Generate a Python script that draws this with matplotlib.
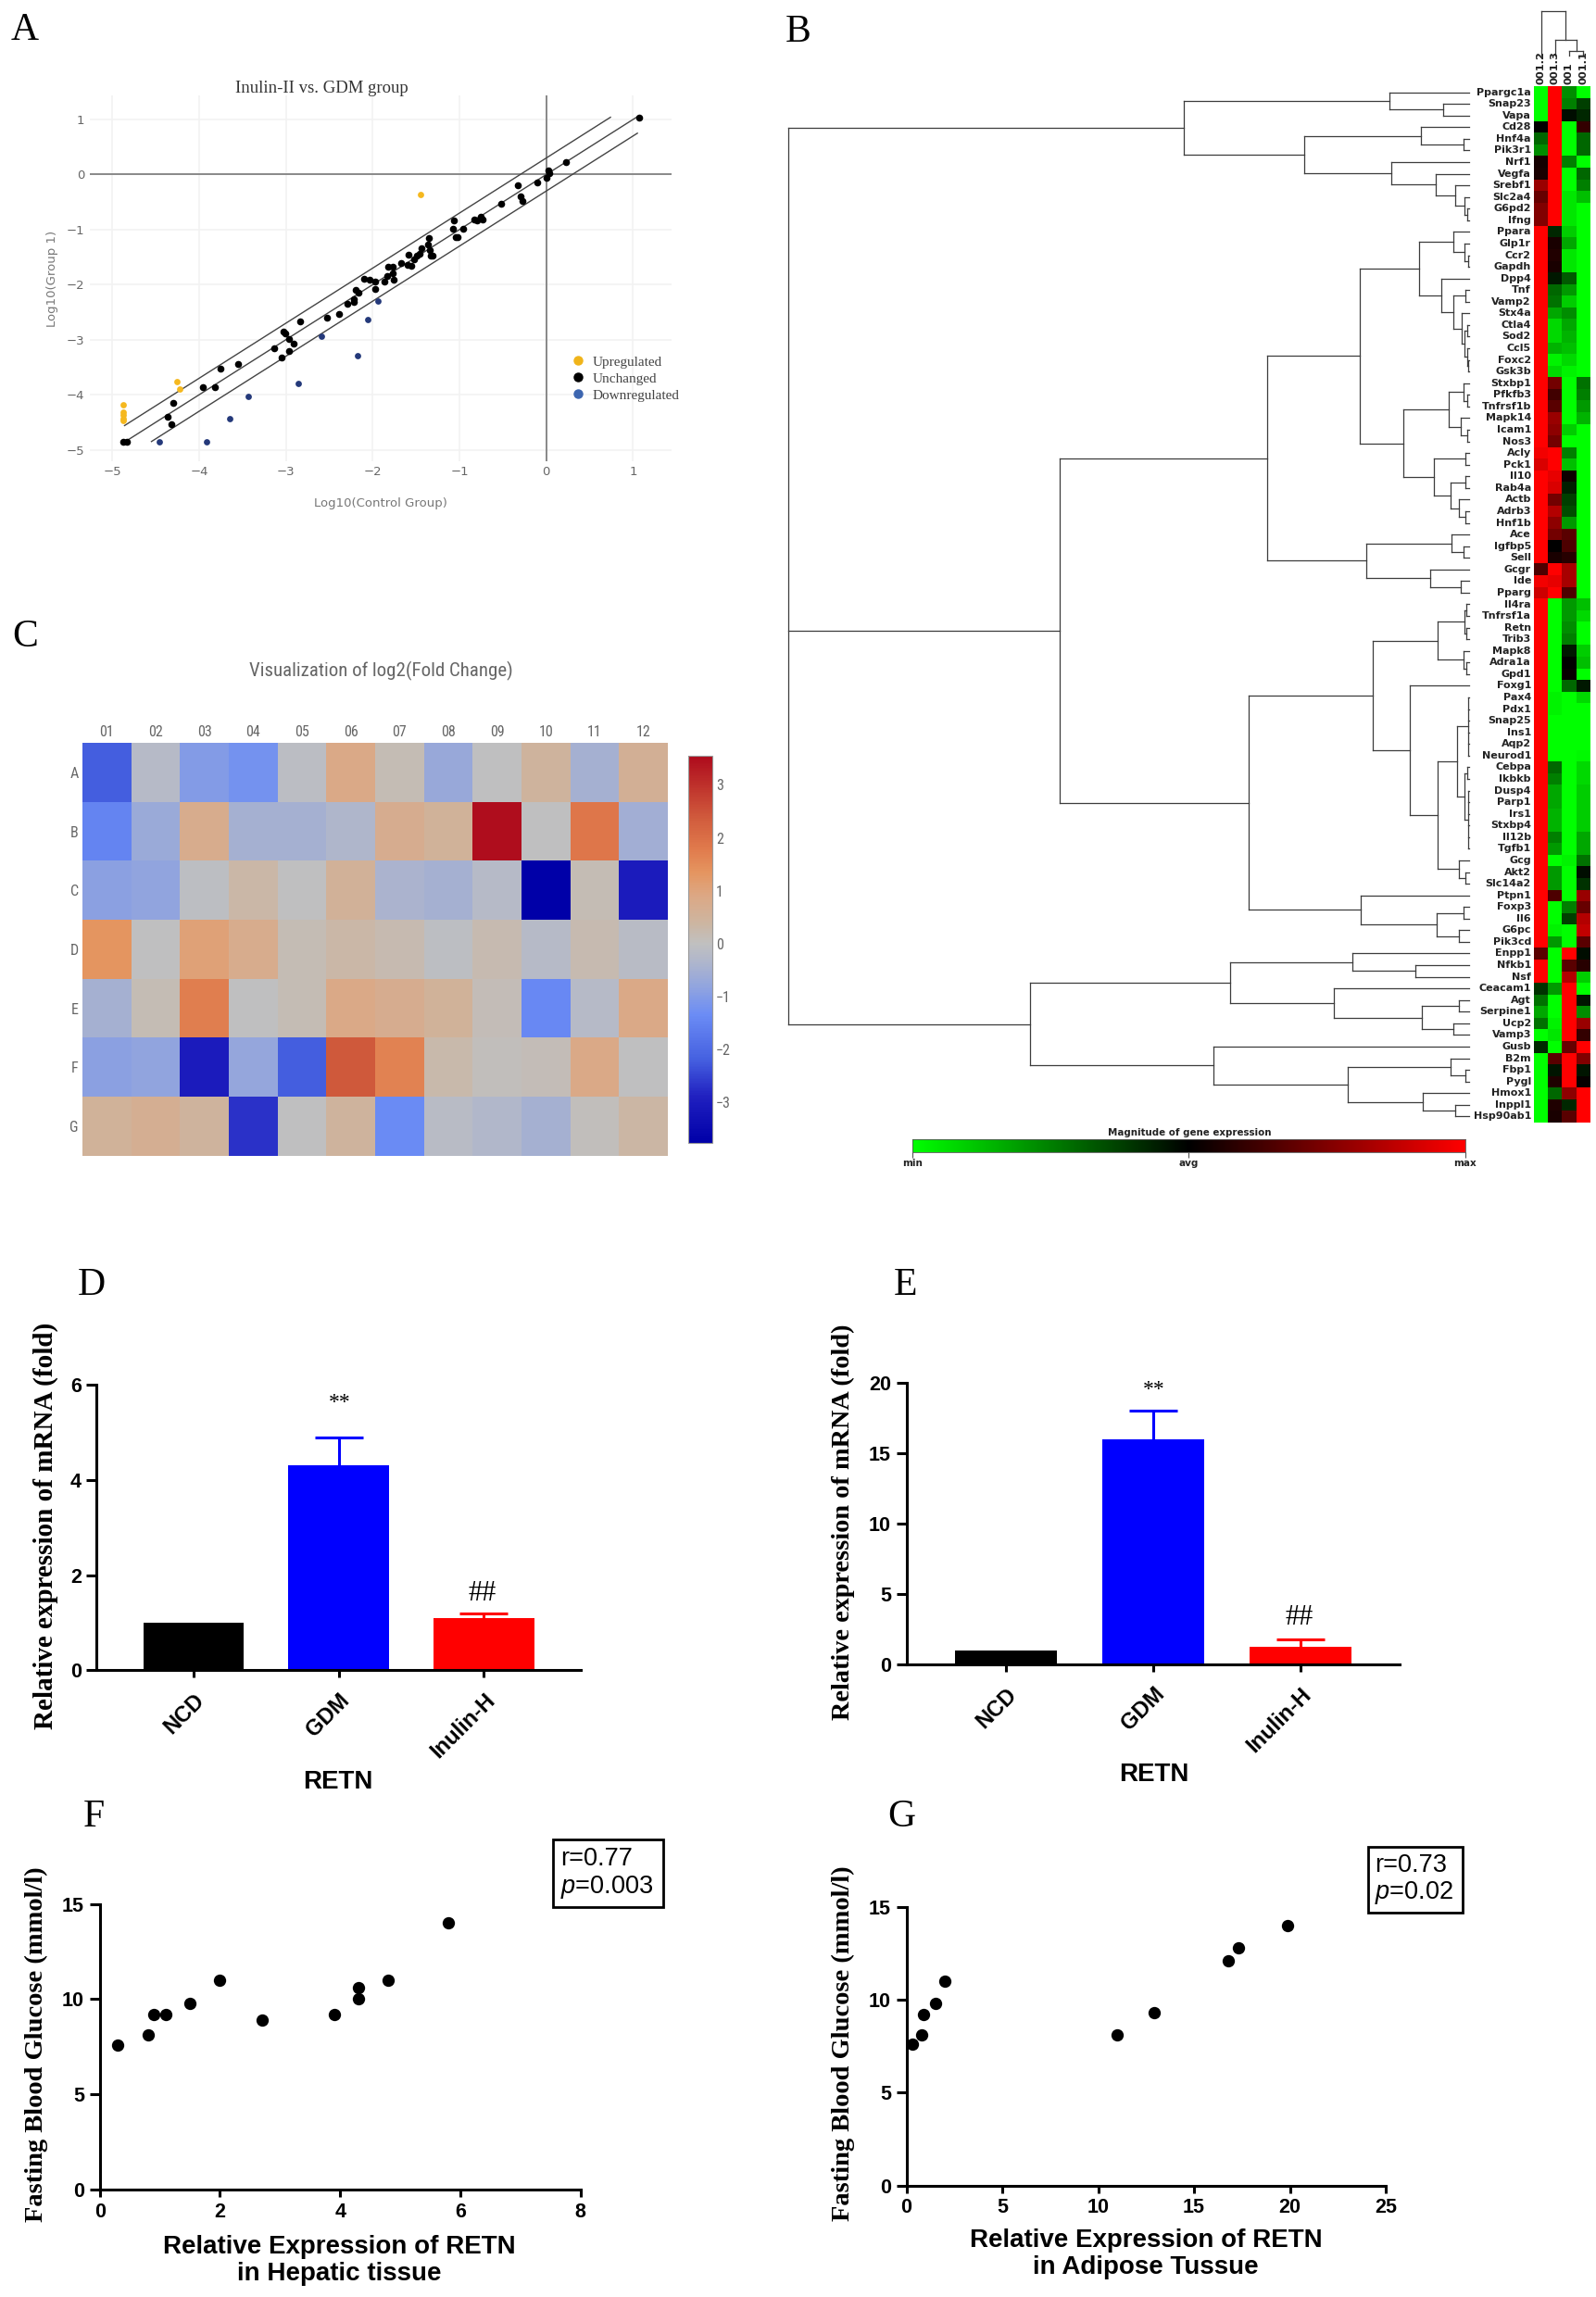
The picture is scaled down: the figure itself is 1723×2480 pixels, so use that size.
import numpy as np
import matplotlib
matplotlib.use("Agg")
import matplotlib.pyplot as plt
from matplotlib.colors import LinearSegmentedColormap
from matplotlib.lines import Line2D
from matplotlib.patches import Rectangle
import logging
logging.getLogger('matplotlib.font_manager').setLevel(logging.ERROR)

W, H = 1724, 2480
SERIF = ['Liberation Serif', 'DejaVu Serif']
SANS = ['Liberation Sans', 'DejaVu Sans']
NARROW = ['Roboto Condensed', 'Liberation Sans', 'DejaVu Sans']

plt.rcParams['mathtext.fontset'] = 'custom'
plt.rcParams['mathtext.it'] = 'Liberation Sans:italic'
plt.rcParams['mathtext.rm'] = 'Liberation Sans'

# ---------- A ----------
a_black_x = [1.07,0.23,0.02,0.04,0,-0.10,-0.33,-0.30,-0.28,-0.52,-0.75,-0.73,-0.83,-0.80,-1.06,-1.07,-0.96,-1.04,-1.02,-1.35,-1.36,-1.44,-1.34,-1.33,-1.31,-1.46,-1.49,-1.52,-1.59,-1.67,-1.60,-1.56,-1.82,-1.77,-1.77,-1.83,-1.76,-1.86,-1.97,-2.04,-2.10,-1.97,-2.20,-2.16,-2.22,-2.22,-2.29,-2.39,-2.53,-2.84,-3.03,-3.01,-2.96,-2.91,-2.96,-3.14,-3.05,-3.55,-3.75,-3.82,-3.96,-4.30,-4.36,-4.32,-4.88,-4.83]
a_black_y = [1.04,0.22,0.08,0.03,-0.06,-0.15,-0.20,-0.39,-0.48,-0.53,-0.76,-0.82,-0.82,-0.83,-0.84,-0.99,-0.98,-1.14,-1.13,-1.15,-1.28,-1.34,-1.37,-1.48,-1.48,-1.44,-1.47,-1.54,-1.46,-1.60,-1.65,-1.66,-1.67,-1.67,-1.80,-1.84,-1.91,-1.95,-1.95,-1.91,-1.90,-2.08,-2.09,-2.14,-2.26,-2.31,-2.34,-2.53,-2.60,-2.66,-2.85,-2.88,-2.98,-3.07,-3.20,-3.16,-3.32,-3.44,-3.53,-3.86,-3.86,-4.15,-4.40,-4.54,-4.85,-4.85]
a_up_x = [-1.45,-4.26,-4.22,-4.88,-4.88,-4.88,-4.88,-4.88]
a_up_y = [-0.37,-3.76,-3.89,-4.18,-4.32,-4.375,-4.43,-4.46]
a_down_x = [-1.94,-2.06,-2.59,-2.17,-2.86,-3.43,-3.65,-3.92,-4.46]
a_down_y = [-2.29,-2.63,-2.93,-3.29,-3.79,-4.03,-4.44,-4.85,-4.85]
a_line_upper_x, a_line_upper_y = [-4.86, 0.74], [-4.56, 1.04]
a_line_mid_x, a_line_mid_y = [-4.86, 1.07], [-4.86, 1.07]
a_line_lower_x, a_line_lower_y = [-4.55, 1.05], [-4.85, 0.75]
a_ticks_x = [-5,-4,-3,-2,-1,0,1]
a_ticks_y = [-5,-4,-3,-2,-1,0,1]
legend_a = ['Upregulated', 'Unchanged', 'Downregulated']

# ---------- C ----------
c_cols = ['01','02','03','04','05','06','07','08','09','10','11','12']
c_rows = ['A','B','C','D','E','F','G']
c_vals = [
 [-2.2,-0.2,-1.0,-1.2,-0.1,0.85,0.15,-0.7,0.0,0.45,-0.5,0.6],
 [-1.5,-0.65,0.75,-0.5,-0.5,-0.35,0.7,0.5,3.5,0.0,1.85,-0.55],
 [-0.9,-0.8,-0.05,0.3,0.0,0.55,-0.4,-0.5,-0.2,-3.75,0.15,-3.0],
 [1.35,0.0,1.05,0.75,0.15,0.3,0.2,-0.05,0.2,-0.2,0.2,-0.15],
 [-0.5,0.15,1.7,0,0.15,0.85,0.7,0.5,0.1,-1.4,-0.2,0.85],
 [-0.9,-0.8,-3.0,-0.75,-2.2,2.4,1.65,0.25,0.05,0.1,0.85,0],
 [0.5,0.65,0.45,-2.7,0,0.45,-1.35,-0.15,-0.3,-0.5,0.05,0.35],
]
c_vmin, c_vmax = -3.77, 3.56
c_stops = [(-3.77,'#0000a8'),(-2.9,'#2020c0'),(-2.2,'#4560e0'),(-1.35,'#6b8cf5'),(-0.85,'#8fa3e0'),
           (-0.35,'#afb6cc'),(0,'#c0c0c0'),(0.4,'#cdb5a0'),(0.9,'#dca885'),(1.35,'#e59560'),
           (1.8,'#e07a4c'),(2.4,'#d05a3c'),(3.56,'#ae0a1c')]

# ---------- B ----------
genes = ['Ppargc1a','Snap23','Vapa','Cd28','Hnf4a','Pik3r1','Nrf1','Vegfa','Srebf1','Slc2a4','G6pd2','Ifng','Ppara','Glp1r','Ccr2','Gapdh','Dpp4','Tnf','Vamp2','Stx4a','Ctla4','Sod2','Ccl5','Foxc2','Gsk3b','Stxbp1','Pfkfb3','Tnfrsf1b','Mapk14','Icam1','Nos3','Acly','Pck1','Il10','Rab4a','Actb','Adrb3','Hnf1b','Ace','Igfbp5','Sell','Gcgr','Ide','Pparg','Il4ra','Tnfrsf1a','Retn','Trib3','Mapk8','Adra1a','Gpd1','Foxg1','Pax4','Pdx1','Snap25','Ins1','Aqp2','Neurod1','Cebpa','Ikbkb','Dusp4','Parp1','Irs1','Stxbp4','Il12b','Tgfb1','Gcg','Akt2','Slc14a2','Ptpn1','Foxp3','Il6','G6pc','Pik3cd','Enpp1','Nfkb1','Nsf','Ceacam1','Agt','Serpine1','Ucp2','Vamp3','Gusb','B2m','Fbp1','Pygl','Hmox1','Inppl1','Hsp90ab1']
b_col_labels = ['001.2','001.3','001','001.1']
b_vals = [
[-1,1,-.55,-1],[-1,1,-.5,-.25],[-1,1,-.05,-.15],[0,1,-1,.2],[-.4,1,-1,-.4],[-.55,1,-1,-.4],[.08,1,-.5,-1],[.1,1,-1,-.4],
[.6,1,-1,-.5],[.4,1,-.9,-.75],[.5,1,-.9,-1],[.5,1,-.9,-1],[1,-.15,-.8,-1],[1,.1,-.65,-1],[1,.13,-.9,-1],[1,.1,-.9,-1],
[1,-.1,-.35,-1],[1,-.4,-.6,-1],[1,-.45,-.8,-1],[1,-.65,-.55,-1],[1,-.85,-.65,-1],[1,-.85,-.7,-1],[1,-.7,-.75,-1],[1,-.95,-.85,-1],
[1,-.85,-.95,-1],[1,.45,-1,-.45],[1,.25,-1,-.5],[1,.35,-1,-.6],[1,.6,-1,-.7],[1,.55,-.8,-1],[1,.45,-1,-1],[.95,1,-.5,-1],
[.85,1,-.75,-1],[1,.9,.05,-1],[1,.85,-.12,-1],[1,.45,-.25,-1],[1,.7,-.3,-1],[1,.55,-.6,-1],[1,.45,.35,-1],[1,0,.3,-1],
[1,.1,.15,-1],[.3,1,.65,-1],[.95,.9,.65,-1],[.8,1,.3,-1],[1,-1,-.6,-.75],[1,-1,-.6,-.85],[1,-1,-.55,-1],[1,-1,-.5,-1],
[1,-1,-.1,-.8],[1,-1,0,-.75],[1,-1,.03,-1],[1,-1,-.4,-.1],[1,-.95,-1,-.85],[1,-.95,-1,-1],[1,-1,-1,-1],[1,-1,-1,-1],
[1,-1,-1,-1],[1,-1,-1,-.97],[1,-.4,-1,-.85],[1,-.5,-1,-.85],[1,-.65,-1,-.8],[1,-.65,-1,-.8],[1,-.7,-1,-.8],[1,-.7,-1,-.8],
[1,-.5,-1,-.65],[1,-.6,-1,-.65],[1,-1,-.95,-.45],[1,-.6,-1,-.05],[1,-.6,-1,-.2],[1,.3,-1,.6],[1,-1,-.5,.4],[1,-1,-.25,.7],
[1,-.95,-1,.75],[1,-.6,-1,.35],[.35,-1,1,-.05],[1,-1,.35,.15],[1,-1,.7,-.8],[-.2,-.6,1,-1],[-.45,-1,1,-.08],[-.65,-1,1,-.55],
[-.45,-.95,1,.6],[-1,-.9,1,.2],[-.15,-1,.4,1],[-1,.35,1,.5],[-1,-.08,1,-.08],[-1,.12,1,.03],[-1,-.4,.55,1],[-1,.12,-.15,1],[-1,.1,.35,1],
]
L = None  # a leaf; nodes are (height, child, child, ...)
tree_top = (620, (172, L, (56, L, L)), (357, (104, L, (12, L, L)), (168, L, (72, L, (30, L, (10, L, (4, L, L)))))))
tree_mid = (888,
  (439,
    (238,
      (109, (35, L, (10, L, (3, L, L))), (60, L, (35, (8, L, L), (17, L, (10, (4, L, L), (5, L, (3, L, L))))))),
      (142, (44, (13, L, (5, L, L)), (18, L, (5, L, L))), (76, (8, L, L), (40, (8, L, L), (22, L, (8, L, L)))))),
    (223, (38, L, (12, L, L)), (84, L, (18, L, L)))),
  (478,
    (209,
      (68, (10, (6, L, L), (6, L, L)), (12, L, (6, L, L))),
      (128, L, (68,
          (27, (3, L, L, L, L, L, L), (10, (5, L, L), (3, L, L, L, L, L, L))),
          (22, L, (8, L, L))))),
    (235, L, (70, (12, L, L), (22, L, L)))))
tree_bot = (953,
  (518, (254, L, (116, L, L)), (293, L, (102, (22, L, L), (35, L, L)))),
  (555, L, (263, (41, L, (8, L, L)), (100, L, (30, L, L)))))
tree_rows = (1478, tree_top, tree_mid, tree_bot)
tree_cols = (48, L, (17, L, (5, L, L)))

# ---------- D/E ----------
bar_groups = ['NCD', 'GDM', 'Inulin-H']
bar_colors = ['#000000', '#0000ff', '#ff0000']
d_vals, d_err = [1, 4.3, 1.1], [0, 0.6, 0.1]
e_vals, e_err = [1, 16, 1.2], [0, 2, 0.55]

# ---------- F/G ----------
f_x = [0.3,0.8,0.9,1.1,1.5,2.0,2.7,3.9,4.3,4.3,4.8,5.8]
f_y = [7.6,8.1,9.2,9.2,9.8,11.0,8.9,9.2,10.0,10.6,11.0,14.0]
g_x = [0.3,0.8,0.9,1.5,2.0,11.0,12.9,16.8,17.3,19.9]
g_y = [7.6,8.1,9.2,9.8,11.0,8.1,9.3,12.1,12.8,14.0]

fig = plt.figure(figsize=(W/100, H/100), dpi=100, facecolor='white')

def axpx(l, t, r, b):
    return fig.add_axes([l/W, 1-b/H, (r-l)/W, (b-t)/H])

def tx(x, y, s, **kw):
    kw.setdefault('ha', 'center'); kw.setdefault('va', 'center')
    return fig.text(x/W, 1-y/H, s, **kw)

for s, x, y in [('A',27,33),('B',862,35),('C',27,688),('D',99,1388),('E',978,1388),('F',101,1962),('G',973,1962)]:
    tx(x, y, s, family=SERIF, fontsize=30)

# Panel A
ax = axpx(97, 103, 725, 497.5)
ax.set_xlim(-5.26, 1.444); ax.set_ylim(-5.2, 1.437)
for sp in ax.spines.values(): sp.set_visible(False)
ax.set_xticks(a_ticks_x); ax.set_yticks(a_ticks_y)
ax.grid(True, color='#f2f2f2', lw=1.2); ax.set_axisbelow(True)
ax.tick_params(length=0, labelsize=9.5, labelcolor='#666666', pad=4)
ax.axhline(0, color='#777777', lw=1.2); ax.axvline(0, color='#777777', lw=1.2)
for lx, ly in [(a_line_upper_x,a_line_upper_y),(a_line_mid_x,a_line_mid_y),(a_line_lower_x,a_line_lower_y)]:
    ax.plot(lx, ly, color='#444444', lw=1.0)
ax.scatter(a_up_x, a_up_y, s=24, color='#f5b81f', zorder=3, lw=0)
ax.scatter(a_black_x, a_black_y, s=30, color='black', zorder=3, lw=0)
ax.scatter(a_down_x, a_down_y, s=24, color='#24397a', zorder=3, lw=0)
handles = [Line2D([],[],ls='',marker='o',ms=6.5,color=c) for c in ['#f0b41a','#000000','#3d66b0']]
leg = ax.legend(handles, legend_a, loc='upper left', bbox_to_anchor=(609/W, 1-384/H), bbox_transform=fig.transFigure,
          frameon=False, prop={'family':SERIF,'size':11}, labelspacing=0.28, handletextpad=0.0, borderpad=0, borderaxespad=0)
for t in leg.get_texts(): t.set_color('#444444')
tx(347, 96, 'Inulin-II vs. GDM group', family=SERIF, fontsize=13.5, color='#333333')
tx(411, 544, 'Log10(Control Group)', fontsize=9.5, color='#777777')
tx(57, 301, 'Log10(Group 1)', fontsize=9.5, color='#777777', rotation=90)

# Panel B: heat map
green_red = LinearSegmentedColormap.from_list('gbr', ['#00ff00', '#000000', '#ff0000'])
ax = axpx(1656, 93.3, 1716.7, 1211.7)
ax.imshow(np.array(b_vals), cmap=green_red, vmin=-1, vmax=1, aspect='auto', interpolation='nearest')
ax.axis('off')

def draw_tree(node, counter, seg):
    """Return (position, height); leaves take the next position."""
    if node is None:
        i = counter[0]; counter[0] += 1
        return i, 0
    h = node[0]
    kids = [draw_tree(c, counter, seg) for c in node[1:]]
    for p, kh in kids:
        seg.append(((kh, h), (p, p)))
    seg.append(((h, h), (kids[0][0], kids[-1][0])))
    return (kids[0][0] + kids[-1][0]) / 2, h

ax = axpx(851, 93.3, 1586, 1211.7)
ax.set_xlim(1478, 0); ax.set_ylim(len(genes)-0.5, -0.5); ax.axis('off')
segs = []; draw_tree(tree_rows, [0], segs)
for sx, sy in segs:
    ax.plot(sx, sy, color='#3c3c3c', lw=0.9, clip_on=False, solid_capstyle='projecting')
for i, g in enumerate(genes):
    tx(1653, 93.3 + (i+0.5)*(1211.7-93.3)/len(genes), g, ha='right', fontsize=8, fontweight='bold', color='#222222')

ax = axpx(1656, 5, 1716.7, 60)
ax.set_xlim(-0.5, 3.5); ax.set_ylim(0, 55); ax.axis('off')
segs = []; draw_tree(tree_cols, [0], segs)
for sx, sy in segs:
    ax.plot(sy, sx, color='#3c3c3c', lw=0.9, clip_on=False)
for i, c in enumerate(b_col_labels):
    tx(1656 + (i+0.5)*(1716.7-1656)/4, 91, c, va='bottom', rotation=90, fontsize=8.2, fontweight='bold', color='#222222')

ax = axpx(985, 1230.4, 1582, 1244)
ax.imshow(np.linspace(-1, 1, 256)[None, :], cmap=green_red, aspect='auto', extent=(-1, 1, 0, 1))
ax.set_yticks([]); ax.set_xticks([-1, 0, 1]); ax.set_xticklabels(['min', 'avg', 'max'], fontsize=7.5, fontweight='bold', color='#222222')
ax.tick_params(axis='x', length=4, width=0.8, pad=1, color='#555555')
for sp in ax.spines.values(): sp.set_linewidth(0.6); sp.set_color('#555555')
tx(1284, 1223, 'Magnitude of gene expression', fontsize=7.4, fontweight='bold', color='#222222')

# Panel C
pos = [(v - c_vmin)/(c_vmax - c_vmin) for v, _ in c_stops]
cool_warm = LinearSegmentedColormap.from_list('cw', list(zip(pos, [c for _, c in c_stops])))
ax = axpx(89, 802, 721, 1248)
im = ax.imshow(np.array(c_vals), cmap=cool_warm, vmin=c_vmin, vmax=c_vmax, aspect='auto', interpolation='nearest')
for sp in ax.spines.values(): sp.set_visible(False)
ax.xaxis.tick_top()
ax.set_xticks(range(12)); ax.set_xticklabels(c_cols)
ax.set_yticks(range(7)); ax.set_yticklabels(c_rows)
ax.tick_params(length=0, labelcolor='#666666', pad=3)
for t in ax.get_xticklabels()+ax.get_yticklabels():
    t.set_family(NARROW); t.set_fontsize(11.5)
cax = axpx(743, 815.5, 769, 1234)
cb = fig.colorbar(im, cax=cax)
cb.set_ticks([-3,-2,-1,0,1,2,3])
cb.ax.tick_params(length=0, labelcolor='#666666', pad=3)
for t in cb.ax.get_yticklabels():
    t.set_family(NARROW); t.set_fontsize(11.5)
cb.outline.set_edgecolor('#999999'); cb.outline.set_linewidth(0.8)
tx(411.6, 724, 'Visualization of log2(Fold Change)', family=NARROW, fontsize=15, color='#666666')

def style(ax, fs=15.5):
    for s in ['top','right']: ax.spines[s].set_visible(False)
    for s in ['left','bottom']: ax.spines[s].set_linewidth(2.2)
    ax.tick_params(width=2.2, length=8, pad=4, labelsize=fs)
    ax.tick_params(axis='x', length=6)
    for t in ax.get_xticklabels()+ax.get_yticklabels():
        t.set_family(SANS); t.set_fontweight('bold')

def bars(box, vals, errs, ylim, yticks, xlim, ylab, ylab_x, ylab_y, ylab_fs, stars, hashes, retn):
    ax = axpx(*box)
    xs = range(len(vals))
    ax.bar(xs, vals, width=0.695, color=bar_colors, zorder=2)
    for x, v, e, c in zip(xs, vals, errs, bar_colors):
        if e:
            cont = ax.errorbar([x], [v], yerr=[[0],[e]], color=c, capsize=19, elinewidth=2.2, capthick=2.2, zorder=1)
            cont[1][0].set_visible(False)
    ax.set_xlim(*xlim); ax.set_ylim(*ylim); ax.set_yticks(yticks)
    ax.set_xticks(list(xs)); ax.set_xticklabels(bar_groups)
    style(ax)
    for t in ax.get_xticklabels():
        t.set_rotation(45); t.set_ha('right'); t.set_rotation_mode('anchor'); t.set_fontsize(17)
    ax.tick_params(axis='x', pad=9)
    tx(ylab_x, ylab_y, ylab, family=SERIF, fontweight='bold', fontsize=ylab_fs, rotation=90)
    tx(stars[0], stars[1], '**', family=SERIF, fontsize=17)
    tx(hashes[0], hashes[1], '##', family=SERIF, fontsize=22)
    tx(retn[0], retn[1], 'RETN', family=SANS, fontweight='bold', fontsize=20)

bars((104.5,1495,627,1803.3), d_vals, d_err, (0,6), [0,2,4,6], (-0.667,2.667),
     'Relative expression of mRNA (fold)', 49.5, 1647.6, 21, (367,1515), (521,1720), (365,1924))
bars((978.6,1492.7,1510.7,1796.7), e_vals, e_err, (0,20), [0,5,10,15,20], (-0.675,2.67),
     'Relative expression of mRNA (fold)', 910, 1643, 20.3, (1246,1500), (1403,1746.5), (1246,1916))

def scat(box, xs, ys, xlim, xticks, xlab, xlab_c, xlab_ys, ylab_x, ylab_y, b, r, p, tx_x, tys):
    ax = axpx(*box)
    ax.scatter(xs, ys, s=92, color='black', lw=0, clip_on=False, zorder=3)
    ax.set_xlim(*xlim); ax.set_ylim(0, 15)
    ax.set_xticks(xticks); ax.set_yticks([0,5,10,15])
    style(ax)
    tx(xlab_c, xlab_ys[0], xlab[0], family=SANS, fontweight='bold', fontsize=20)
    tx(xlab_c, xlab_ys[1], xlab[1], family=SANS, fontweight='bold', fontsize=20)
    tx(ylab_x, ylab_y, 'Fasting Blood Glucose (mmol/l)', family=SERIF, fontweight='bold', fontsize=20.5, rotation=90)
    fig.add_artist(Rectangle((b[0]/W, 1-b[3]/H), (b[2]-b[0])/W, (b[3]-b[1])/H, transform=fig.transFigure,
                             fc='white', ec='black', lw=2))
    tx(tx_x, tys[0], r, ha='left', family=SANS, fontsize=19.5)
    tx(tx_x, tys[1], '$\\mathit{p}$='+p, ha='left', family=SANS, fontsize=19.5)

scat((107.7,2055.6,626.7,2364), f_x, f_y, (0,8), [0,2,4,6,8],
     ('Relative Expression of RETN','in Hepatic tissue'), 366, (2426,2455), 39.6, 2207,
     (597,1986,716,2058.5), 'r=0.77', '0.003', 605, (2007,2037))
scat((978.6,2059,1496,2359.6), g_x, g_y, (0,25), [0,5,10,15,20,25],
     ('Relative Expression of RETN','in Adipose Tussue'), 1237, (2419,2448), 910, 2206,
     (1477,1994,1579,2065), 'r=0.73', '0.02', 1484, (2014,2044))

fig.savefig('out.png', dpi=100, facecolor='white')
